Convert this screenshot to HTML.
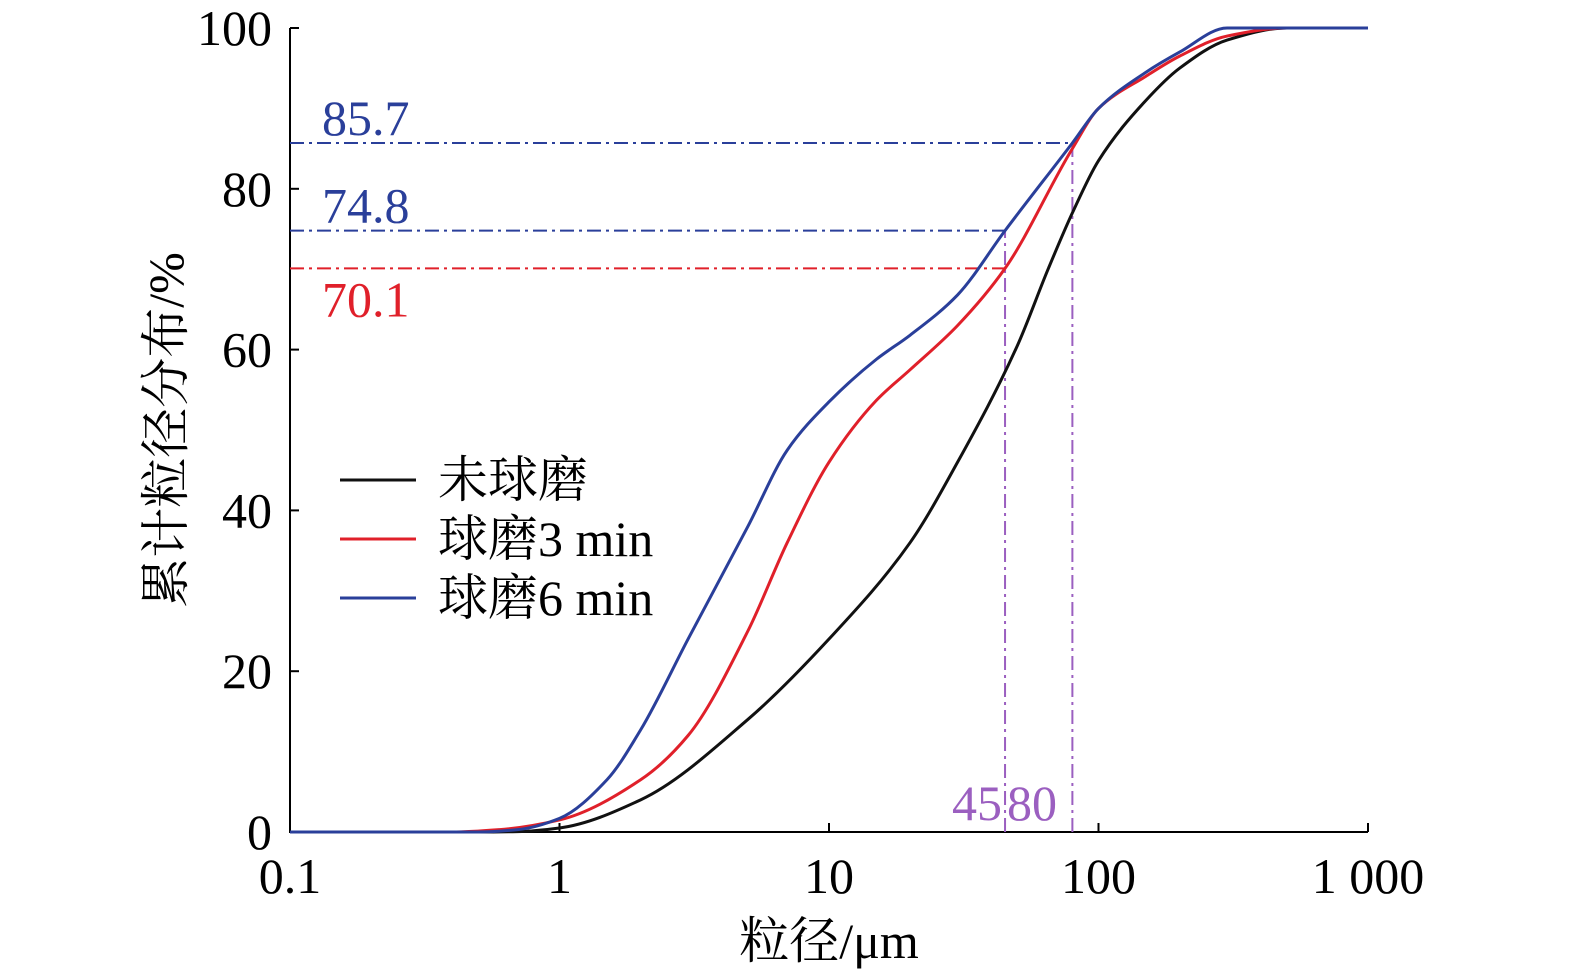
<!DOCTYPE html>
<html><head><meta charset="utf-8">
<style>
html,body{margin:0;padding:0;background:#fff;}
svg{display:block;font-family:"Liberation Serif","Noto Serif CJK SC",serif;}
</style></head>
<body>
<svg id="chart" width="1575" height="980" viewBox="0 0 1575 980" xmlns="http://www.w3.org/2000/svg">
<g id="axes"></g>
<g id="refs"></g>
<g id="series"></g>
<g id="legend"></g>
</svg>
<script>
const xTicks = [0.1, 1, 10, 100, 1000];
const xTickLabels = ["0.1", "1", "10", "100", "1 000"];
const yTicks = [0, 20, 40, 60, 80, 100];
const seriesNames = ["未球磨", "球磨3 min", "球磨6 min"];
const seriesColors = ["#111111", "#e0202a", "#2a3f9a"];
const sizes0 = [0.1, 0.5, 0.7, 1, 2, 5, 10, 20, 30, 50, 65, 80, 100, 150, 200, 300, 500, 1000];
const vals0 = [0, 0, 0.05, 0.5, 4, 14, 24, 36, 46, 60.5, 70, 77, 83.5, 91, 95, 98.5, 100, 100];
const sizes1 = [0.1, 0.4, 0.6, 1, 2, 3, 5, 7, 10, 15, 20, 30, 45, 80, 100, 150, 200, 300, 500, 1000];
const vals1 = [0, 0, 0.3, 1.5, 6.5, 12, 25, 36, 46, 53.7, 57.5, 63, 70.1, 85, 90, 94, 96.5, 99, 100, 100];
const sizes2 = [0.1, 0.5, 0.7, 1, 1.5, 2, 3, 5, 7, 10, 15, 20, 30, 45, 80, 100, 150, 200, 300, 500, 1000];
const vals2 = [0, 0, 0.3, 1.7, 6.5, 12.7, 24, 38, 47.5, 53.5, 58.8, 61.8, 66.8, 74.8, 85.7, 90, 94.5, 97, 100, 100, 100];
const refValues = [85.7, 74.8, 70.1];
const refSizes = [80, 45, 45];
const refColors = ["#2a3f9a", "#2a3f9a", "#e0202a"];
const vSizes = [45, 80];
const vTops = [74.8, 85.7];

const X0=290, X1=1368, Y0=832, Y1=28;
const xs = v => X0 + (Math.log10(v) + 1) / 4 * (X1 - X0);
const ys = v => Y0 - v / 100 * (Y0 - Y1);
const NS = "http://www.w3.org/2000/svg";
const FS = 50;
function mk(tag, parent, attrs, text){
  const e = document.createElementNS(NS, tag);
  for (const k in attrs) e.setAttribute(k, attrs[k]);
  if (text !== undefined) e.textContent = text;
  parent.appendChild(e); return e;
}
const axes = document.getElementById('axes');
let e = mk('path', axes, {d:`M${X0} ${Y1} L${X0} ${Y0} L${X1} ${Y0}`, fill:'none', stroke:'#000', 'stroke-width':2});


xTicks.forEach((t,i)=>{
  const x = xs(t);
  let l = mk('line', axes, {x1:x, x2:x, y1:Y0, y2:Y0-9, stroke:'#000','stroke-width':2});
  
  
  let tx = mk('text', axes, {x:x, y:893, 'font-size':FS, 'text-anchor':'middle'}, xTickLabels[i]);
  
  
});
yTicks.forEach(t=>{
  const y = ys(t);
  let l = mk('line', axes, {x1:X0, x2:X0+9, y1:y, y2:y, stroke:'#000','stroke-width':2});
  
  
  let tx = mk('text', axes, {x:272, y:y+17, 'font-size':FS, 'text-anchor':'end'}, String(t));
  
  
});
let xt = mk('text', axes, {x:829, y:958, 'font-size':FS, 'text-anchor':'middle'}, '粒径/μm');


let yt = mk('text', axes, {x:0, y:0, 'font-size':FS, 'text-anchor':'middle', transform:'translate(183 430) rotate(-90)'}, '累计粒径分布/%');



const refs = document.getElementById('refs');
refValues.forEach((v,i)=>{
  let l = mk('line', refs, {x1:X0, x2:xs(refSizes[i]), y1:ys(v), y2:ys(v), stroke:refColors[i], 'stroke-width':2, 'stroke-dasharray':'14 5 3 5'});
  
  
});
const labY = [ys(refValues[0])-8, ys(refValues[1])-8, ys(refValues[2])+48];
refValues.forEach((v,i)=>{
  let t = mk('text', refs, {x:322, y:labY[i], 'font-size':FS, fill:refColors[i]}, v.toFixed(1));
  
  
});
vSizes.forEach((s,i)=>{
  let l = mk('line', refs, {x1:xs(s), x2:xs(s), y1:Y0, y2:ys(vTops[i]), stroke:'#9b5fc0', 'stroke-width':2, 'stroke-dasharray':'14 5 3 5'});
  
  
});
let t45 = mk('text', refs, {x:xs(45)-3, y:820, 'font-size':FS, fill:'#9b5fc0', 'text-anchor':'end'}, '45');


let t80 = mk('text', refs, {x:xs(45)+2, y:820, 'font-size':FS, fill:'#9b5fc0'}, '80');



function monotone(sz, vs){
  const X = sz.map(xs), Y = vs.map(ys), n = X.length;
  const d = [], m = new Array(n);
  for (let i=0;i<n-1;i++) d.push((Y[i+1]-Y[i])/(X[i+1]-X[i]));
  m[0]=d[0]; m[n-1]=d[n-2];
  for (let i=1;i<n-1;i++){
    if (d[i-1]*d[i] <= 0) m[i]=0;
    else { const h0=X[i]-X[i-1], h1=X[i+1]-X[i];
      const w1=2*h1+h0, w2=h1+2*h0;
      m[i]=(w1+w2)/(w1/d[i-1]+w2/d[i]); }
  }
  let p = `M${X[0]} ${Y[0]}`;
  for (let i=0;i<n-1;i++){
    const h=(X[i+1]-X[i])/3;
    p += ` C${X[i]+h} ${Y[i]+m[i]*h} ${X[i+1]-h} ${Y[i+1]-m[i+1]*h} ${X[i+1]} ${Y[i+1]}`;
  }
  return p;
}
const series = document.getElementById('series');
const allS = [[sizes0, vals0],[sizes1, vals1],[sizes2, vals2]];
const sNames = ['curve-unmilled','curve-milled-3min','curve-milled-6min'];
allS.forEach((s,i)=>{
  let p = mk('path', series, {d:monotone(s[0], s[1]), fill:'none', stroke:seriesColors[i], 'stroke-width':3});
  
  
});
const legend = document.getElementById('legend');
seriesNames.forEach((n,i)=>{
  const y = 480 + i*59;
  let l = mk('line', legend, {x1:340, x2:416, y1:y, y2:y, stroke:seriesColors[i], 'stroke-width':3});
  
  
  let t = mk('text', legend, {x:438, y:y+17, 'font-size':FS}, n);
  
  
});
</script>
</body></html>
